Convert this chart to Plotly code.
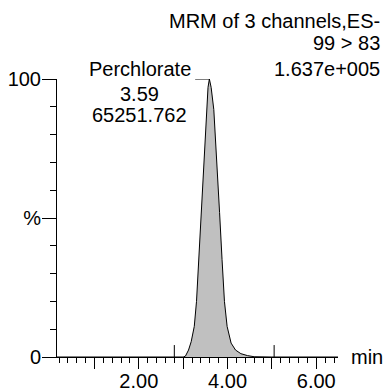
import plotly.graph_objects as go

# Chromatogram trace (time in min, relative intensity %)
times = [0.15, 1.0, 2.0, 2.8, 3.0, 3.05, 3.12, 3.18, 3.25, 3.30, 3.35, 3.40, 3.46, 3.52,
         3.56, 3.59, 3.63, 3.69, 3.76, 3.82, 3.876, 3.93, 3.99, 4.08, 4.18, 4.30,
         4.45, 4.60, 5.0, 6.0, 6.49]
intensity = [0, 0, 0, 0, 0, 0.3, 2.5, 5.5, 11, 20, 35, 52, 71, 89,
             97, 100, 97, 89, 71, 52, 35, 20, 11, 5, 2.5, 1.2,
             0.5, 0.1, 0, 0, 0]

# integration markers (peak start / end)
integ_times = [2.80, 5.05]
integ_height = 4.3

# peak label
peak_name = "Perchlorate"
peak_rt = "3.59"
peak_area = "65251.762"
leader_x = [3.27, 3.59]
leader_y = [100, 100]

header_lines = ["MRM of 3 channels,ES-", "99 > 83", "1.637e+005"]

x_tickvals = [1, 2, 3, 4, 5, 6]
x_ticktext = ["", "2.00", "", "4.00", "", "6.00"]
y_tickvals = [0, 50, 100]
y_ticktext = ["0", "%", "100"]

FONT = "Liberation Sans, Arial, sans-serif"
FS = 20

fig = go.Figure()
fig.add_trace(go.Scatter(x=times, y=intensity, mode="lines", fill="tozeroy",
                         fillcolor="#c0c0c0", line=dict(color="black", width=1),
                         hoverinfo="skip"))
for t in integ_times:
    fig.add_trace(go.Scatter(x=[t, t], y=[0, integ_height], mode="lines",
                             line=dict(color="black", width=1), hoverinfo="skip"))
fig.add_trace(go.Scatter(x=leader_x, y=leader_y, mode="lines",
                         line=dict(color="black", width=1), hoverinfo="skip"))

# plot area: x 56.5..338 px, y 79..357 px
L, R, T, B = 56.5, 338, 79, 357
W, H = R - L, B - T
def px(xp):
    return (xp - L) / W
def py(yp):
    return (B - yp) / H

ann = []
hdr_y = [21.5, 43.5, 69]
for txt, yy in zip(header_lines, hdr_y):
    ann.append(dict(text=txt, xref="paper", yref="paper", x=px(382), y=py(yy),
                    xanchor="right", yanchor="middle", showarrow=False))
lab_y = [69, 93.5, 114.5]
for txt, yy in zip([peak_name, peak_rt, peak_area], lab_y):
    ann.append(dict(text=txt, xref="paper", yref="paper", x=px(139.5), y=py(yy),
                    xanchor="center", yanchor="middle", showarrow=False))
ann.append(dict(text="min", xref="paper", yref="paper", x=px(349), y=py(357),
                xanchor="left", yanchor="middle", showarrow=False))

fig.update_layout(
    width=389, height=391,
    margin=dict(l=L, r=389 - R, t=T, b=391 - B, pad=0, autoexpand=False),
    paper_bgcolor="white", plot_bgcolor="white",
    showlegend=False,
    font=dict(family=FONT, size=FS, color="black"),
    annotations=ann,
    xaxis=dict(range=[0.155, 6.49], showgrid=False, zeroline=False,
               showline=True, linecolor="black", linewidth=1,
               ticks="outside", ticklen=11, tickwidth=1, tickcolor="black",
               tickmode="array", tickvals=x_tickvals, ticktext=x_ticktext,
               tickfont=dict(family=FONT, size=FS, color="black"),
               ticklabelstandoff=-5,
               automargin=False,
               minor=dict(dtick=0.2, tick0=0, ticks="outside", ticklen=5,
                          tickwidth=1, tickcolor="black", showgrid=False)),
    yaxis=dict(range=[0, 100], showgrid=False, zeroline=False,
               showline=True, linecolor="black", linewidth=1,
               ticks="outside", ticklen=14, tickwidth=1, tickcolor="black",
               tickmode="array", tickvals=y_tickvals, ticktext=y_ticktext,
               tickfont=dict(family=FONT, size=FS, color="black"),
               ticklabelstandoff=-3,
               automargin=False,
               minor=dict(dtick=10, tick0=0, ticks="outside", ticklen=6,
                          tickwidth=1, tickcolor="black", showgrid=False)),
)

fig.write_html("out.html", config={"displayModeBar": False},
               post_script="document.body.style.margin='0';document.body.style.overflow='hidden';")
